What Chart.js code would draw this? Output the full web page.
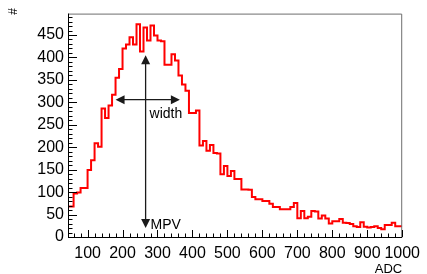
<!DOCTYPE html>
<html>
<head>
<meta charset="utf-8">
<script src="https://cdn.jsdelivr.net/npm/chart.js@4.4.1/dist/chart.umd.min.js"></script>
<style>
  html, body { margin: 0; padding: 0; background: #fff; }
  #wrap { width: 427px; height: 274px; }
</style>
</head>
<body>
<div id="wrap"><canvas id="adcChart" width="427" height="274"></canvas></div>
<script>
// ADC spectrum, fixed 10-count bins starting at 40
const binLow = 40;
const binWidth = 10;
const counts = [
  68, 68, 97, 99, 109, 109,
  149, 171, 209, 201, 286, 265, 293, 317, 355, 374,
  420, 429, 445, 429, 474, 413, 467, 438, 471, 449,
  438, 436, 384, 384, 407, 393, 360, 340, 326, 276,
  276, 282, 204, 214, 192, 205, 187, 186, 140, 158,
  136, 147, 129, 129, 106, 106, 105, 89, 84, 84,
  80, 80, 74, 67, 67, 62, 62, 62, 67, 76,
  42, 58, 42, 45, 58, 57, 41, 48, 41, 30,
  35, 35, 40, 32, 31, 29, 24, 22, 33, 23,
  21, 22, 24, 20, 17, 27, 27, 32, 24, 24
];
const xTicks = [100, 200, 300, 400, 500, 600, 700, 800, 900, 1000];
const yTicks = [0, 50, 100, 150, 200, 250, 300, 350, 400, 450];

// annotation anchors (data units)
const mpv = 266;
const mpvArrowY = [20, 405];
const widthArrowX = [180, 364];
const widthArrowY = 306;

const xMin = 44, xMax = 1000;
const yMax = 1.05 * Math.max(...counts);
const font = "'Liberation Sans', Arial, Helvetica, sans-serif";

// step points: left edge of each bin, plus closing right edge
const points = counts.map((c, i) => ({ x: binLow + i * binWidth, y: c }));
points.push({ x: binLow + counts.length * binWidth, y: counts[counts.length - 1] });

function arrowHead(ctx, x, y, dx, dy) {
  const len = 9, half = 4.5;
  const bx = x - dx * len, by = y - dy * len;
  ctx.beginPath();
  ctx.moveTo(x, y);
  ctx.lineTo(bx - dy * half, by + dx * half);
  ctx.lineTo(bx + dy * half, by - dx * half);
  ctx.closePath();
  ctx.fill();
}

const frameAndNotes = {
  id: 'frameAndNotes',
  afterDraw(chart) {
    const { ctx, chartArea: a } = chart;
    const x = chart.scales.x, y = chart.scales.y;
    ctx.save();

    // top / right frame
    ctx.strokeStyle = '#6e6e6e';
    ctx.lineWidth = 1;
    ctx.beginPath();
    ctx.moveTo(a.left, a.top + 0.5);
    ctx.lineTo(a.right - 0.5, a.top + 0.5);
    ctx.lineTo(a.right - 0.5, a.bottom);
    ctx.stroke();

    // axes
    ctx.strokeStyle = '#000';
    ctx.beginPath();
    ctx.moveTo(a.left + 0.5, a.top);
    ctx.lineTo(a.left + 0.5, a.bottom + 0.5);
    ctx.lineTo(a.right, a.bottom + 0.5);
    ctx.stroke();

    // inward ticks
    ctx.beginPath();
    for (let v = 0; v <= yMax; v += 10) {
      const py = Math.round(y.getPixelForValue(v)) + 0.5;
      const len = v % 50 === 0 ? 9 : 4.5;
      ctx.moveTo(a.left, py);
      ctx.lineTo(a.left + len, py);
    }
    for (let v = 60; v <= xMax; v += 20) {
      const px = Math.round(x.getPixelForValue(v)) + 0.5;
      const len = v % 100 === 0 ? 7 : 3.5;
      ctx.moveTo(px, a.bottom);
      ctx.lineTo(px, a.bottom - len);
    }
    ctx.stroke();

    // MPV and width arrows
    ctx.strokeStyle = '#1a1a1a';
    ctx.fillStyle = '#1a1a1a';
    ctx.lineWidth = 1.3;
    const mx = x.getPixelForValue(mpv);
    const yTop = y.getPixelForValue(mpvArrowY[1]);
    const yBot = y.getPixelForValue(mpvArrowY[0]);
    ctx.beginPath();
    ctx.moveTo(mx, yTop + 4);
    ctx.lineTo(mx, yBot - 4);
    ctx.stroke();
    arrowHead(ctx, mx, yTop, 0, -1);
    arrowHead(ctx, mx, yBot, 0, 1);

    const wy = y.getPixelForValue(widthArrowY);
    const wl = x.getPixelForValue(widthArrowX[0]);
    const wr = x.getPixelForValue(widthArrowX[1]);
    ctx.beginPath();
    ctx.moveTo(wl + 4, wy);
    ctx.lineTo(wr - 4, wy);
    ctx.stroke();
    arrowHead(ctx, wl, wy, -1, 0);
    arrowHead(ctx, wr, wy, 1, 0);

    ctx.fillStyle = '#000';
    ctx.font = '14px ' + font;
    ctx.textAlign = 'left';
    ctx.textBaseline = 'alphabetic';
    ctx.fillText('width', mx + 4, wy + 18);
    ctx.fillText('MPV', mx + 5, yBot + 1);

    // axis titles
    ctx.font = '13px ' + font;
    ctx.textAlign = 'right';
    ctx.fillText('ADC', a.right, 273);
    ctx.save();
    ctx.translate(17, 8);
    ctx.rotate(-Math.PI / 2);
    ctx.font = '12px ' + font;
    ctx.fillText('#', 0, 0);
    ctx.restore();

    ctx.restore();
  }
};

new Chart(document.getElementById('adcChart'), {
  type: 'line',
  data: {
    datasets: [{
      data: points,
      borderColor: '#ff0000',
      borderWidth: 2,
      stepped: true,
      pointRadius: 0,
      fill: false,
      clip: 0
    }]
  },
  options: {
    responsive: false,
    animation: false,
    devicePixelRatio: 1,
    layout: { padding: { top: 7, right: 19, left: 0, bottom: 0 } },
    plugins: { legend: { display: false }, tooltip: { enabled: false } },
    scales: {
      x: {
        type: 'linear',
        min: xMin,
        max: xMax,
        afterBuildTicks: s => { s.ticks = xTicks.map(v => ({ value: v })); },
        afterFit: s => { s.height = 37; },
        grid: { display: false, drawTicks: false },
        border: { display: false },
        ticks: { color: '#000', padding: 7, maxRotation: 0, autoSkip: false, callback: v => String(v), font: { family: font, size: 16 } }
      },
      y: {
        min: 0,
        max: yMax,
        afterBuildTicks: s => { s.ticks = yTicks.map(v => ({ value: v })); },
        afterFit: s => { s.width = 68; },
        grid: { display: false, drawTicks: false },
        border: { display: false },
        ticks: { color: '#000', padding: 4, autoSkip: false, callback: v => String(v), font: { family: font, size: 16 } }
      }
    }
  },
  plugins: [frameAndNotes]
});
</script>
</body>
</html>
